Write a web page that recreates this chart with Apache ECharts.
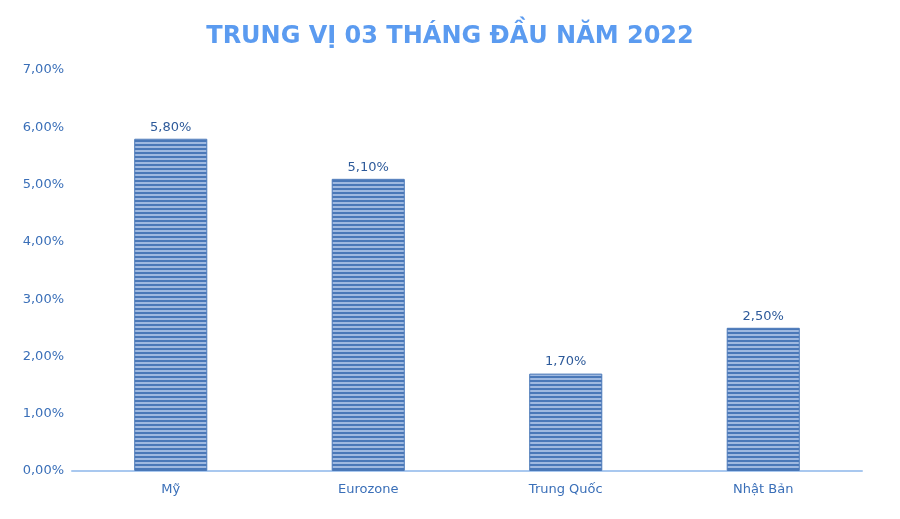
<!DOCTYPE html>
<html>
<head>
<meta charset="utf-8">
<script src="https://cdn.jsdelivr.net/npm/echarts@6/dist/echarts.min.js"></script>
<style>html,body{margin:0;padding:0;background:#fff}#chart{width:900px;height:519px}</style>
</head>
<body>
<div id="chart"></div>
<script>
var categories = ['Mỹ', 'Eurozone', 'Trung Quốc', 'Nhật Bản'];
var values = [5.8, 5.1, 1.7, 2.5];

// striped fill like the original
var c = document.createElement('canvas');
c.width = 4; c.height = 4;
var ctx = c.getContext('2d');
ctx.fillStyle = '#9fb9e0'; ctx.fillRect(0, 0, 4, 4);
ctx.fillStyle = '#4a78b8'; ctx.fillRect(0, 0, 4, 2);

var chart = echarts.init(document.getElementById('chart'));
chart.setOption({
    title: {
        text: 'TRUNG VỊ 03 THÁNG ĐẦU NĂM 2022', left: 'center', top: 20,
        textStyle: { fontFamily: 'Verdana, DejaVu Sans', fontSize: 24, fontWeight: 'bold', color: '#5b9bf0' }
    },
    grid: { left: 72, right: 38, top: 70, bottom: 48 },
    xAxis: {
        type: 'category', data: categories,
        axisLine: { lineStyle: { color: '#a9c8ef', width: 2 } },
        axisTick: { show: false },
        axisLabel: { color: '#3a6fb8', fontSize: 13, fontFamily: 'DejaVu Sans', margin: 12 }
    },
    yAxis: {
        type: 'value', min: 0, max: 7, interval: 1,
        splitLine: { show: false },
        axisLabel: { color: '#3a6fb8', fontSize: 13, fontFamily: 'DejaVu Sans',
            formatter: function(v) { return v.toFixed(2).replace('.', ',') + '%'; } }
    },
    series: [{
        type: 'bar', data: values, barWidth: '37%',
        itemStyle: { color: { image: c, repeat: 'repeat' }, borderColor: '#4a78b8', borderWidth: 1 },
        label: { show: true, position: 'top', color: '#2d5a9a', fontSize: 13, fontFamily: 'DejaVu Sans',
            formatter: function(p) { return p.value.toFixed(2).replace('.', ',') + '%'; } }
    }]
});
</script>
</body>
</html>
